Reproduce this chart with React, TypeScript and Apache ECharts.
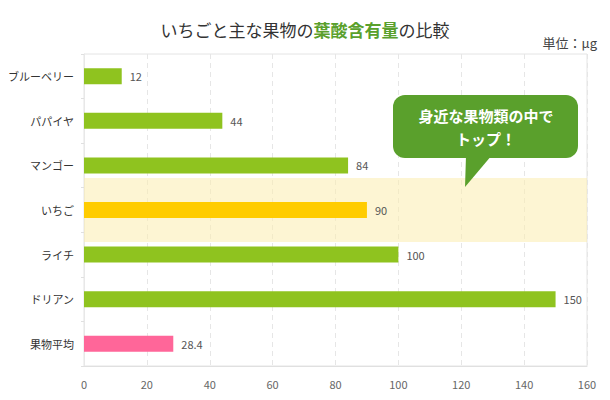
import React, { useEffect, useRef } from "react";
import * as echarts from "echarts";

const categories = ["ブルーベリー", "パパイヤ", "マンゴー", "いちご", "ライチ", "ドリアン", "果物平均"];
const values = [12, 44, 84, 90, 100, 150, 28.4];
const barColors = ["#8fc31f", "#8fc31f", "#8fc31f", "#ffcc00", "#8fc31f", "#8fc31f", "#ff6699"];
const highlight = [null, null, null, 160, null, null, null];
const xTicks = { min: 0, max: 160, interval: 20 };

const FONT = "'Noto Sans CJK JP', 'Noto Sans', sans-serif";

export default function App() {
  const ref = useRef<HTMLDivElement>(null);
  useEffect(() => {
    document.body.style.margin = "0";
    const chart = echarts.init(ref.current!, null, { renderer: "svg" });
    chart.setOption({
      animation: false,
      textStyle: { fontFamily: FONT },
      title: {
        text: "{a|いちごと主な果物の}{b|葉酸含有量}{a|の比較}",
        left: "center",
        top: 16,
        textStyle: {
          fontWeight: "normal",
          rich: {
            a: { fontSize: 17, color: "#333", fontWeight: "normal", fontFamily: FONT },
            b: { fontSize: 17, color: "#5aa02c", fontWeight: "bold", fontFamily: FONT },
          },
        },
      },
      grid: {
        left: 84,
        right: 23,
        top: 54,
        bottom: 34,
        show: true,
        borderColor: "#e4e4e4",
        borderWidth: 1,
        containLabel: false,
      },
      xAxis: {
        type: "value",
        min: xTicks.min,
        max: xTicks.max,
        interval: xTicks.interval,
        axisLine: { show: true, lineStyle: { color: "#e0e0e0" } },
        axisTick: { show: false },
        axisLabel: { color: "#666", fontSize: 11, margin: 12, fontFamily: FONT },
        splitLine: { show: true, lineStyle: { color: "#e6e6e6", type: [5, 4], width: 1 } },
      },
      yAxis: [
        {
          type: "category",
          data: categories,
          inverse: true,
          axisLine: { show: true, lineStyle: { color: "#e8e8e8" } },
          axisTick: { show: true, length: 3, lineStyle: { color: "#e0e0e0" } },
          axisLabel: { color: "#333", fontSize: 11, margin: 10, fontFamily: FONT },
          splitLine: { show: false },
        },
        {
          type: "category",
          data: categories,
          inverse: true,
          show: false,
        },
      ],
      series: [
        {
          type: "bar",
          yAxisIndex: 1,
          data: highlight,
          barWidth: 64,
          silent: true,
          z: 1,
          itemStyle: { color: "rgba(252, 236, 175, 0.55)" },
        },
        {
          type: "bar",
          yAxisIndex: 0,
          barWidth: 16,
          z: 3,
          data: values.map((v, i) => ({ value: v, itemStyle: { color: barColors[i] } })),
          label: {
            show: true,
            position: "right",
            distance: 8,
            color: "#555",
            fontSize: 11,
            fontFamily: FONT,
          },
        },
      ],
      graphic: [
        {
          type: "text",
          right: 13,
          top: 36,
          z: 100,
          style: { text: "単位：μg", fill: "#444", font: `13px ${FONT}` },
        },
        {
          type: "polygon",
          z: 100,
          shape: { points: [[466, 155], [492, 155], [465, 187]] },
          style: { fill: "#5aa02c" },
        },
        {
          type: "rect",
          z: 100,
          shape: { x: 393, y: 95, width: 185, height: 63, r: 12 },
          style: { fill: "#5aa02c" },
        },
        {
          type: "text",
          z: 101,
          x: 486,
          y: 115,
          style: {
            text: "身近な果物類の中で",
            fill: "#fff",
            font: `bold 15px ${FONT}`,
            align: "center",
            verticalAlign: "middle",
          },
        },
        {
          type: "text",
          z: 101,
          x: 486,
          y: 138,
          style: {
            text: "トップ！",
            fill: "#fff",
            font: `bold 15px ${FONT}`,
            align: "center",
            verticalAlign: "middle",
          },
        },
      ],
    });
    return () => chart.dispose();
  }, []);
  return <div ref={ref} style={{ width: 610, height: 400 }} />;
}
